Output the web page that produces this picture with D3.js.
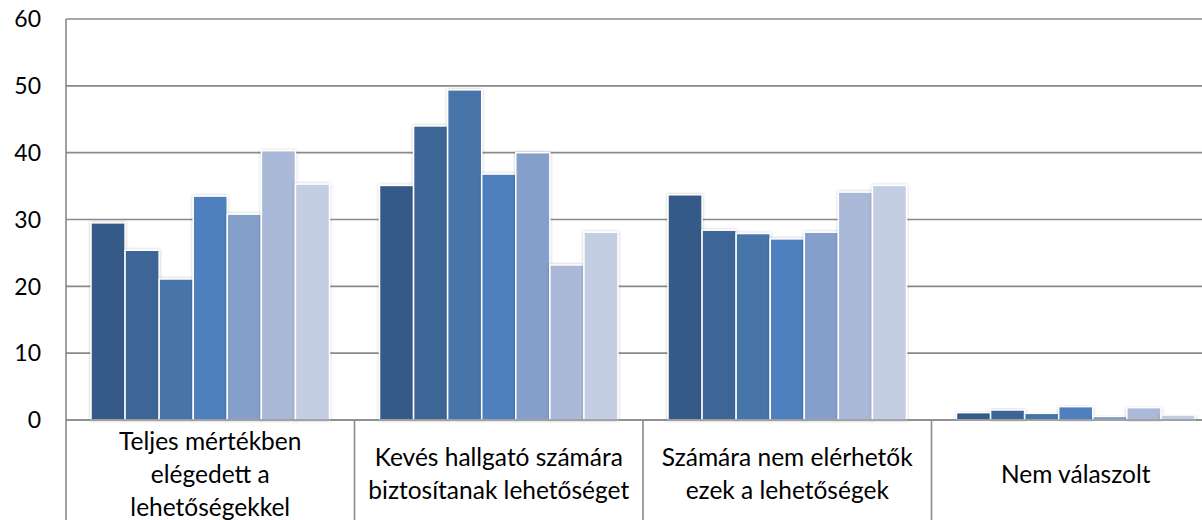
<!DOCTYPE html>
<html>
<head>
<meta charset="utf-8">
<script src="https://cdn.jsdelivr.net/npm/d3@7"></script>
<style>
  body { margin: 0; background: #fff; }
  svg { display: block; font-family: Lato, "Liberation Sans", sans-serif; }
</style>
</head>
<body>
<div id="chart"></div>
<script>
// chart data
const categories = [
  ["Teljes mértékben", "elégedett a", "lehetőségekkel"],
  ["Kevés hallgató számára", "biztosítanak lehetőséget"],
  ["Számára nem elérhetők", "ezek a lehetőségek"],
  ["Nem válaszolt"]
];
const seriesNames = ["s1", "s2", "s3", "s4", "s5", "s6", "s7"];
const values = [
  [29.5, 25.4, 21.1, 33.5, 30.8, 40.3, 35.3],
  [35.1, 44.0, 49.4, 36.8, 40.0, 23.2, 28.1],
  [33.7, 28.4, 27.9, 27.1, 28.1, 34.1, 35.1],
  [1.1, 1.5, 1.0, 2.0, 0.55, 1.85, 0.75]
];
const yTicks = [0, 10, 20, 30, 40, 50, 60];
const colors = ["#355a87", "#3e6697", "#4674aa", "#4e80bd", "#84a0ca", "#aab9d7", "#c4cee2"];

const W = 1202, H = 520;
const plotLeft = 66, plotTop = 19, plotBottom = 420, catWidth = 288.5;

const svg = d3.select("#chart").append("svg")
  .attr("width", W)
  .attr("height", H);

const defs = svg.append("defs");
const shadow = defs.append("filter").attr("id", "shadow")
  .attr("x", "-20%").attr("y", "-10%").attr("width", "140%").attr("height", "120%");
shadow.append("feDropShadow")
  .attr("dx", 0).attr("dy", 0).attr("stdDeviation", 1.6)
  .attr("flood-color", "#000").attr("flood-opacity", 0.25);

const catIdx = categories.map((d, i) => i);
const x0 = d3.scaleBand().domain(catIdx).range([plotLeft, plotLeft + catWidth * categories.length]);
const x1 = d3.scaleBand().domain(seriesNames).range([25, x0.bandwidth() - 25]);
const y = d3.scaleLinear().domain([0, 60]).range([plotBottom, plotTop]);

// gridlines
svg.append("g")
  .selectAll("line")
  .data(yTicks)
  .join("line")
  .attr("x1", plotLeft).attr("x2", W)
  .attr("y1", d => y(d)).attr("y2", d => y(d))
  .attr("stroke", "#8a8a8a")
  .attr("stroke-width", 1.6);

// y labels
svg.append("g")
  .selectAll("text")
  .data(yTicks)
  .join("text")
  .attr("x", 41)
  .attr("y", d => y(d))
  .attr("dy", "0.36em")
  .attr("text-anchor", "end")
  .attr("font-size", 23)
  .attr("fill", "#000")
  .text(d => d);

// bars
const groups = svg.append("g")
  .selectAll("g")
  .data(values)
  .join("g")
  .attr("transform", (d, i) => `translate(${x0(i)},0)`);

groups.selectAll("rect")
  .data(d => d.map((v, j) => ({ key: seriesNames[j], value: v, j })))
  .join("rect")
  .attr("x", d => x1(d.key))
  .attr("y", d => y(d.value))
  .attr("width", x1.bandwidth())
  .attr("height", d => y(0) - y(d.value))
  .attr("fill", d => colors[d.j])
  .attr("stroke", "#fff")
  .attr("stroke-width", 1.5)
  .attr("filter", "url(#shadow)");

// axis lines
svg.append("line")
  .attr("x1", plotLeft).attr("x2", W)
  .attr("y1", y(0)).attr("y2", y(0))
  .attr("stroke", "#8a8a8a").attr("stroke-width", 1.6);

svg.append("line")
  .attr("x1", plotLeft).attr("x2", plotLeft)
  .attr("y1", plotTop).attr("y2", H)
  .attr("stroke", "#8a8a8a").attr("stroke-width", 1.6);

svg.append("g")
  .selectAll("line")
  .data(catIdx.slice(1))
  .join("line")
  .attr("x1", d => x0(d)).attr("x2", d => x0(d))
  .attr("y1", y(0)).attr("y2", H)
  .attr("stroke", "#8a8a8a").attr("stroke-width", 1.6);

// category labels
const lineH = 33, midY = 474;
const labels = svg.append("g")
  .selectAll("text")
  .data(categories)
  .join("text")
  .attr("text-anchor", "middle")
  .attr("font-size", 24.5)
  .attr("fill", "#000");

labels.each(function(lines, i) {
  const t = d3.select(this);
  const cx = x0(i) + x0.bandwidth() / 2;
  lines.forEach((s, k) => {
    t.append("tspan")
      .attr("x", cx)
      .attr("y", midY + (k - (lines.length - 1) / 2) * lineH)
      .attr("dy", "0.36em")
      .text(s);
  });
});
</script>
</body>
</html>
